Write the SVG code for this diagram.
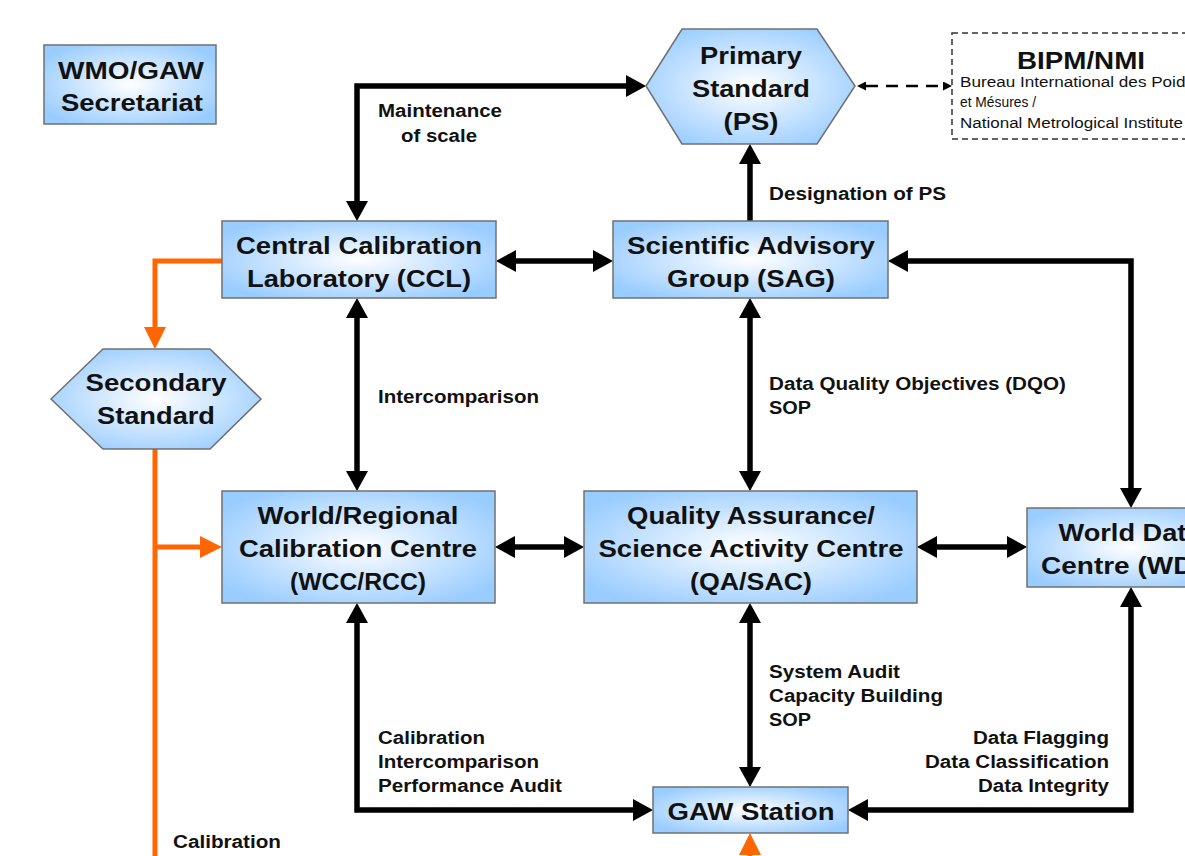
<svg xmlns="http://www.w3.org/2000/svg" width="1185" height="856" viewBox="0 0 1185 856">
<style>
.node{fill:url(#g);stroke:#707070;stroke-width:1.5}
.t{font-family:"Liberation Sans",Arial,sans-serif;font-weight:bold;font-size:24.5px;fill:#111;text-anchor:middle}
.l{font-family:"Liberation Sans",Arial,sans-serif;font-weight:bold;font-size:17.5px;fill:#111}
.s{font-family:"Liberation Sans",Arial,sans-serif;font-size:14px;fill:#111}
.c{fill:none;stroke:#000;stroke-width:5.5;stroke-linejoin:miter}
.o{fill:none;stroke:#FF6600;stroke-width:5}
.ba{marker-start:url(#ab);marker-end:url(#ab)}
.ea{marker-end:url(#ab)}
</style>
<defs>
<radialGradient id="g" cx="0.5" cy="0.5" r="0.6">
<stop offset="0" stop-color="#ffffff"/>
<stop offset="1" stop-color="#99CCFF"/>
</radialGradient>
<marker id="ab" viewBox="0 0 20 22" refX="0" refY="11" markerWidth="20" markerHeight="22" markerUnits="userSpaceOnUse" orient="auto-start-reverse"><path d="M0,0 L20,11 L0,22 Z" fill="#000"/></marker>
<marker id="ao" viewBox="0 0 22 22" refX="0" refY="11" markerWidth="22" markerHeight="22" markerUnits="userSpaceOnUse" orient="auto-start-reverse"><path d="M0,0 L22,11 L0,22 Z" fill="#FF6600"/></marker>
<marker id="ad" viewBox="0 0 9 9" refX="0" refY="4.5" markerWidth="9" markerHeight="9" markerUnits="userSpaceOnUse" orient="auto-start-reverse"><path d="M0,0 L9,4.5 L0,9 Z" fill="#000"/></marker>
</defs>
<rect width="1185" height="856" fill="#fff"/>

<g id="connectors">
<path class="c ba" d="M357,201 V86 H626"/>
<path class="c ea" d="M750,221 V164"/>
<path class="c ba" d="M516,261 H593"/>
<path class="c ba" d="M357,318 V471"/>
<path class="c ba" d="M750,318 V471"/>
<path class="c ba" d="M908,261 H1131 V488"/>
<path class="c ba" d="M515,547 H564"/>
<path class="c ba" d="M937,547 H1007"/>
<path class="c ba" d="M750,623 V767"/>
<path class="c ba" d="M357,623 V810 H633"/>
<path class="c ba" d="M1131,607 V810 H868"/>
<path d="M866,86 H943" fill="none" stroke="#000" stroke-width="2.5" stroke-dasharray="12,8" marker-start="url(#ad)" marker-end="url(#ad)"/>
<path class="o" d="M222,261 H155 V327" marker-end="url(#ao)"/>
<path class="o" d="M155,449 V856"/>
<path class="o" d="M155,547 H200" marker-end="url(#ao)"/>
<path class="o" d="M750,880 V855" marker-end="url(#ao)"/>
<text class="l" x="440" y="117" text-anchor="middle" textLength="124" lengthAdjust="spacingAndGlyphs">Maintenance</text>
<text class="l" x="439" y="142" text-anchor="middle" textLength="76" lengthAdjust="spacingAndGlyphs">of scale</text>
<text class="l" x="769" y="200" textLength="177" lengthAdjust="spacingAndGlyphs">Designation of PS</text>
<text class="l" x="378" y="403" textLength="161" lengthAdjust="spacingAndGlyphs">Intercomparison</text>
<text class="l" x="769" y="390" textLength="297" lengthAdjust="spacingAndGlyphs">Data Quality Objectives (DQO)</text>
<text class="l" x="769" y="414" textLength="42" lengthAdjust="spacingAndGlyphs">SOP</text>
<text class="l" x="769" y="678" textLength="131" lengthAdjust="spacingAndGlyphs">System Audit</text>
<text class="l" x="769" y="702" textLength="174" lengthAdjust="spacingAndGlyphs">Capacity Building</text>
<text class="l" x="769" y="726" textLength="42" lengthAdjust="spacingAndGlyphs">SOP</text>
<text class="l" x="378" y="744" textLength="107" lengthAdjust="spacingAndGlyphs">Calibration</text>
<text class="l" x="378" y="768" textLength="161" lengthAdjust="spacingAndGlyphs">Intercomparison</text>
<text class="l" x="378" y="792" textLength="184" lengthAdjust="spacingAndGlyphs">Performance Audit</text>
<text class="l" x="1109" y="744" text-anchor="end" textLength="136" lengthAdjust="spacingAndGlyphs">Data Flagging</text>
<text class="l" x="1109" y="768" text-anchor="end" textLength="184" lengthAdjust="spacingAndGlyphs">Data Classification</text>
<text class="l" x="1109" y="792" text-anchor="end" textLength="131" lengthAdjust="spacingAndGlyphs">Data Integrity</text>
<text class="l" x="173" y="848" textLength="108" lengthAdjust="spacingAndGlyphs">Calibration</text>
</g>

<g id="wmo">
<rect class="node" x="44" y="45" width="172" height="79"/>
<text class="t" x="131" y="79" textLength="146" lengthAdjust="spacingAndGlyphs">WMO/GAW</text>
<text class="t" x="132" y="111" textLength="142" lengthAdjust="spacingAndGlyphs">Secretariat</text>
</g>

<g id="ps">
<polygon class="node" points="646,86 682,29 817,29 855,86 817,144 682,144"/>
<text class="t" x="751" y="64" textLength="102" lengthAdjust="spacingAndGlyphs">Primary</text>
<text class="t" x="751" y="97" textLength="118" lengthAdjust="spacingAndGlyphs">Standard</text>
<text class="t" x="751" y="130" textLength="55" lengthAdjust="spacingAndGlyphs">(PS)</text>
</g>

<g id="bipm">
<rect x="952" y="33" width="260" height="106" fill="#fff" stroke="#333" stroke-width="1.5" stroke-dasharray="6,4"/>
<text class="t" x="1081" y="69" textLength="128" lengthAdjust="spacingAndGlyphs">BIPM/NMI</text>
<text class="s" x="960" y="87" textLength="234" lengthAdjust="spacingAndGlyphs">Bureau International des Poids</text>
<text class="s" x="960" y="107" textLength="76" lengthAdjust="spacingAndGlyphs">et Mésures /</text>
<text class="s" x="960" y="128" textLength="223" lengthAdjust="spacingAndGlyphs">National Metrological Institute</text>
</g>

<g id="ccl">
<rect class="node" x="222" y="221" width="274" height="77"/>
<text class="t" x="359" y="254" textLength="246" lengthAdjust="spacingAndGlyphs">Central Calibration</text>
<text class="t" x="359" y="287" textLength="224" lengthAdjust="spacingAndGlyphs">Laboratory (CCL)</text>
</g>

<g id="sag">
<rect class="node" x="613" y="221" width="275" height="77"/>
<text class="t" x="751" y="254" textLength="248" lengthAdjust="spacingAndGlyphs">Scientific Advisory</text>
<text class="t" x="751" y="287" textLength="168" lengthAdjust="spacingAndGlyphs">Group (SAG)</text>
</g>

<g id="secondary">
<polygon class="node" points="51,399 103,349 210,349 261,399 210,449 103,449"/>
<text class="t" x="156" y="391" textLength="141" lengthAdjust="spacingAndGlyphs">Secondary</text>
<text class="t" x="156" y="424" textLength="118" lengthAdjust="spacingAndGlyphs">Standard</text>
</g>

<g id="wcc">
<rect class="node" x="222" y="491" width="273" height="112"/>
<text class="t" x="358" y="524" textLength="201" lengthAdjust="spacingAndGlyphs">World/Regional</text>
<text class="t" x="358" y="557" textLength="238" lengthAdjust="spacingAndGlyphs">Calibration Centre</text>
<text class="t" x="358" y="590" textLength="136" lengthAdjust="spacingAndGlyphs">(WCC/RCC)</text>
</g>

<g id="qasac">
<rect class="node" x="584" y="491" width="333" height="112"/>
<text class="t" x="751" y="524" textLength="248" lengthAdjust="spacingAndGlyphs">Quality Assurance/</text>
<text class="t" x="751" y="557" textLength="305" lengthAdjust="spacingAndGlyphs">Science Activity Centre</text>
<text class="t" x="751" y="590" textLength="122" lengthAdjust="spacingAndGlyphs">(QA/SAC)</text>
</g>

<g id="wdc">
<rect class="node" x="1027" y="508" width="208" height="79"/>
<text class="t" x="1130" y="541" textLength="143" lengthAdjust="spacingAndGlyphs">World Data</text>
<text class="t" x="1132" y="574" textLength="182" lengthAdjust="spacingAndGlyphs">Centre (WDC)</text>
</g>

<g id="gaw">
<rect class="node" x="653" y="787" width="195" height="46"/>
<text class="t" x="751" y="820" textLength="167" lengthAdjust="spacingAndGlyphs">GAW Station</text>
</g>
</svg>
